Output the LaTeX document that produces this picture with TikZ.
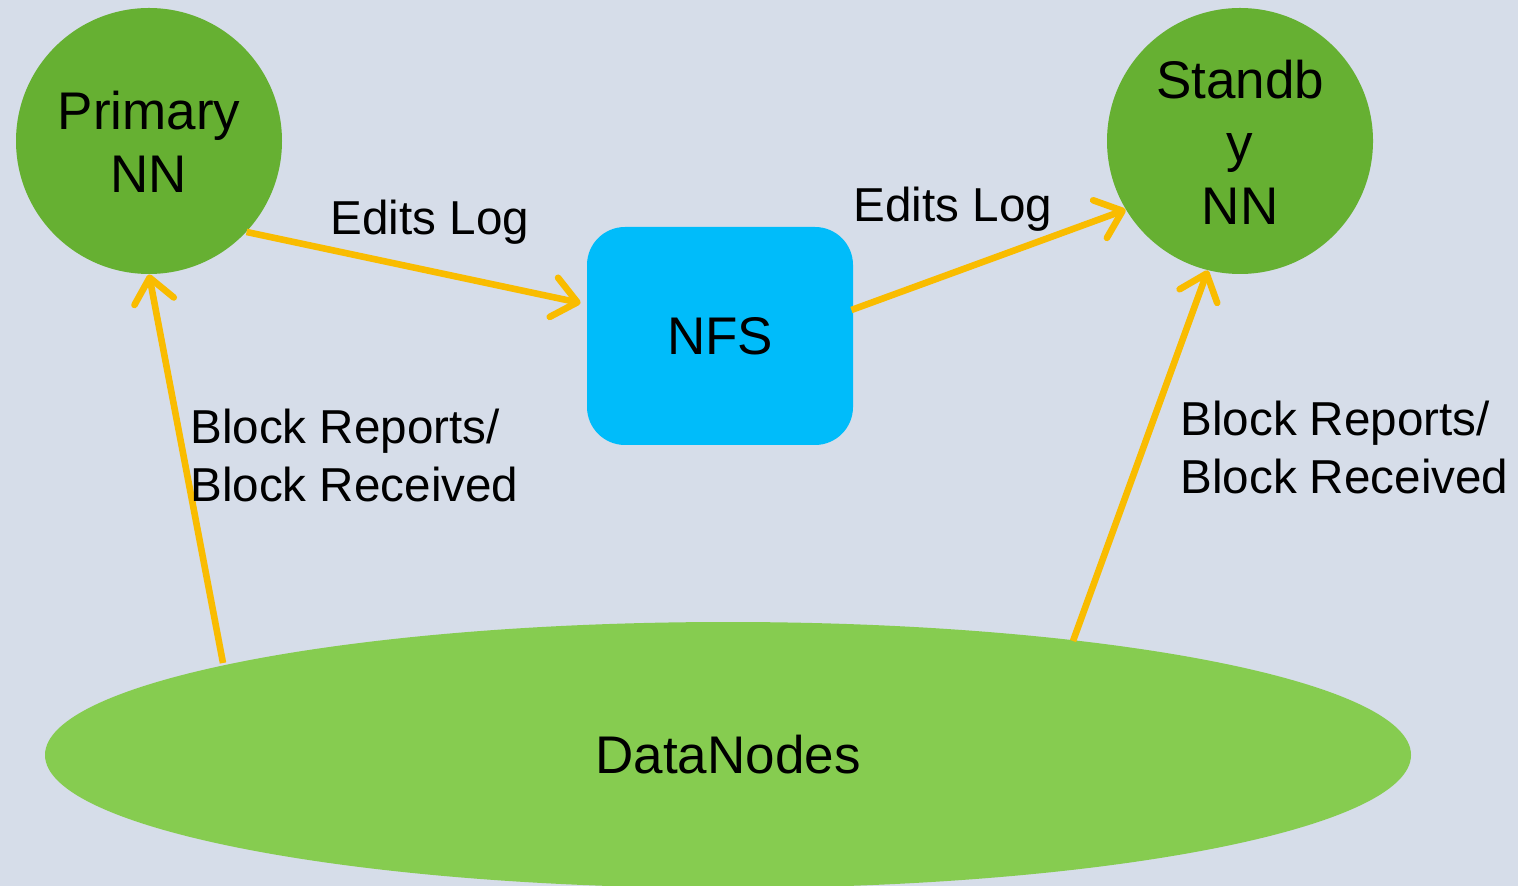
\documentclass[tikz,border=0pt]{standalone}
\usepackage{fontspec}
\setmainfont{Liberation Sans}
\usetikzlibrary{arrows.meta,shapes.geometric,calc}
\definecolor{bgcol}{RGB}{214,221,233}
\definecolor{nngreen}{RGB}{102,176,50}
\definecolor{dngreen}{RGB}{134,204,80}
\definecolor{nfsblue}{RGB}{0,188,250}
\definecolor{flow}{RGB}{249,188,0}
\tikzset{
  namenode/.style={circle, fill=nngreen, minimum size=266*0.5pt, inner sep=0pt,
    align=center, font=\fontsize{26.5}{31.5}\selectfont},
  storebox/.style={rectangle, rounded corners=19pt, fill=nfsblue,
    minimum width=266*0.5pt, minimum height=218*0.5pt, inner sep=0pt,
    font=\fontsize{26.5}{31.5}\selectfont},
  poolnode/.style={ellipse, fill=dngreen, minimum width=1366*0.5pt,
    minimum height=266*0.5pt, inner sep=0pt, font=\fontsize{26.5}{31.5}\selectfont},
  flowline/.style={draw=flow, line width=3.3pt,
    -{Straight Barb[length=12pt,width=20pt,line cap=round,line join=round]}},
  lbl/.style={inner sep=0pt, font=\fontsize{23.8}{29}\selectfont}
}
\begin{document}
\begin{tikzpicture}[x=0.5pt,y=-0.5pt]
  \fill[bgcol] (0,0) rectangle (1518,886);
  \useasboundingbox (0,0) rectangle (1518,886);

  \node[namenode] (prim) at (149,141) {};
  \node[align=center, font=\fontsize{26.5}{31.5}\selectfont, inner sep=0pt] (primtxt) at (149,142) {Primary\\NN};

  \node[namenode] (stby) at (1240,141) {};
  \node[align=center, font=\fontsize{26.5}{31.5}\selectfont, inner sep=0pt] (stbytxt) at (1240,142) {Standb\\y\\NN};

  \node[storebox] (nfs) at (720,336) {NFS};

  \node[poolnode] (dn) at (728,755) {DataNodes};

  % edit log shipping through the shared store
  \draw[flowline] (prim.-43) -- ($(nfs.west)+(-6,-33)$);
  \draw[flowline] ($(nfs.east)+(-2,-26)$) -- (stby.211);

  % block reports from the data nodes
  \draw[flowline] ($(dn.center)+(-505,-92)$) -- (prim.-90);
  \draw[flowline] ($(dn.center)+(345,-114)$) -- (stby.256);

  \node[lbl] (el1) at (430,222) {Edits Log};
  \node[lbl] (el2) at (953,209) {Edits Log};
  \node[lbl, align=left, anchor=west] (br1) at (190,455) {Block Reports/\\Block Received};
  \node[lbl, align=left, anchor=west] (br2) at (1180,447) {Block Reports/\\Block Received};
\end{tikzpicture}
\end{document}
